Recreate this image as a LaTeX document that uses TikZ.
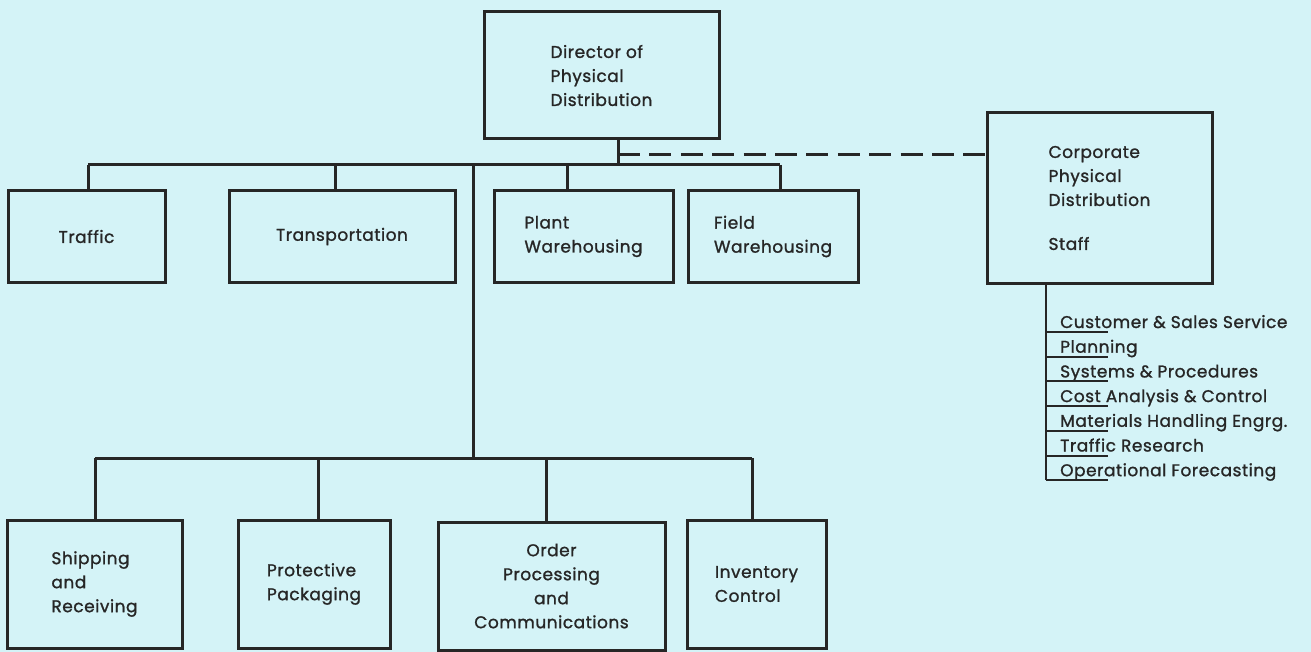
\documentclass[tikz,border=0pt]{standalone}
\usepackage{fontspec}
\setmainfont{Poppins}[LetterSpace=3, FakeBold=1.2]
\usetikzlibrary{positioning}
\definecolor{paper}{RGB}{212,243,247}
\definecolor{ink}{RGB}{38,38,38}
\begin{document}
\begin{tikzpicture}[x=1pt, y=-1pt,
	unit/.style={draw=ink, line width=3pt, inner sep=0pt, outer sep=0pt, align=left,
		text=ink, font=\fontsize{17}{24}\selectfont},
	wire/.style={draw=ink, line width=3pt},
	thin wire/.style={draw=ink, line width=2pt}]
	\fill[paper] (0,0) rectangle (1311,652);
	% top level
	\node[unit, minimum width=235pt, minimum height=127pt] (dir) at (601.5,75.5) {Director of\\Physical\\Distribution};
	\node[unit, minimum width=225pt, minimum height=170pt] (corp) at (1099.5,198) {Corporate\\Physical\\Distribution\\[20pt]Staff};
	% line units
	\node[unit, minimum width=157pt, minimum height=91pt] (traffic) at (86.5,236.5) {Traffic};
	\node[unit, minimum width=226pt, minimum height=91pt] (transp) at (342,236.5) {Transportation};
	\node[unit, minimum width=179pt, minimum height=91pt] (plant) at (583.5,236.5) {Plant\\Warehousing};
	\node[unit, minimum width=170pt, minimum height=91pt] (field) at (773,236.5) {Field\\Warehousing};
	\node[unit, minimum width=175pt, minimum height=128pt] (ship) at (94.5,584) {Shipping\\and\\Receiving};
	\node[unit, minimum width=152pt, minimum height=128pt] (prot) at (314,584) {Protective\\Packaging};
	\node[unit, minimum width=227pt, minimum height=128pt, align=center] (order) at (551.5,586) {Order\\Processing\\and\\Communications};
	\node[unit, minimum width=139pt, minimum height=128pt] (inv) at (756.5,584) {Inventory\\Control};
	% junctions
	\coordinate (jtop) at (618,165); \coordinate (jdash) at (618,155);
	\coordinate (jlow) at (473,458);
	\coordinate (d1) at (88,165); \coordinate (d2) at (335,165);
	\coordinate (d3) at (567,165); \coordinate (d4) at (780,165);
	\coordinate (e1) at (95,458); \coordinate (e2) at (318,458);
	\coordinate (e3) at (546,458); \coordinate (e4) at (752,458);
	\draw[wire] (jtop |- dir.south) -- (jtop);
	\draw[wire] (d1) -- (d4);
	\draw[wire] (d1) -- (d1 |- traffic.north); \draw[wire] (d2) -- (d2 |- transp.north);
	\draw[wire] (d3) -- (d3 |- plant.north); \draw[wire] (d4) -- (d4 |- field.north);
	\draw[wire] (jlow |- jtop) -- (jlow);
	\draw[wire] (e1) -- (e4);
	\draw[wire] (e1) -- (e1 |- ship.north); \draw[wire] (e2) -- (e2 |- prot.north);
	\draw[wire] (e3) -- (e3 |- order.north); \draw[wire] (e4) -- (e4 |- inv.north);
	\draw[wire, dash pattern=on 22pt off 9.4pt] (jdash) -- (jdash -| corp.west);
	% staff functions
	\coordinate (spine) at (1046,283);
	\foreach \t [count=\i] in {Customer \& Sales Service, Planning, Systems \& Procedures,
		Cost Analysis \& Control, Materials Handling Engrg., Traffic Research, Operational Forecasting} {
		\coordinate (k\i) at (1046,{332+24.7*(\i-1)});
		\node[anchor=base west, inner sep=0pt, text=ink, font=\fontsize{17}{24}\selectfont] (s\i) at (1060,{328+24.7*(\i-1)}) {\t};
		\draw[thin wire] (k\i) -- ++(62,0);
	}
	\draw[thin wire] (spine |- corp.south) -- (k7);
\end{tikzpicture}
\end{document}
